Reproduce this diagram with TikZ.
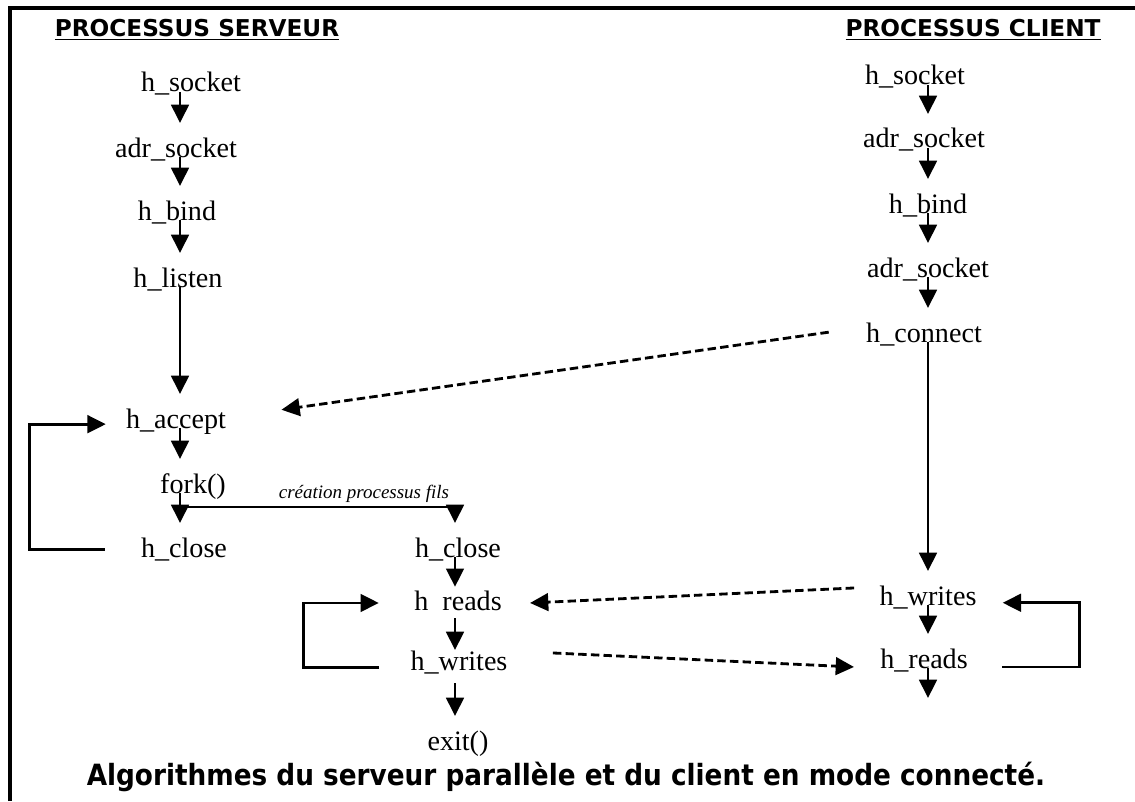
\documentclass[tikz,border=0pt]{standalone}
\usepackage{fontspec}
\setmainfont{Liberation Serif}
\newfontfamily\headfont{DejaVu Sans}
\newfontfamily\legfont{DejaVu Sans Condensed}
\usetikzlibrary{arrows.meta, calc, positioning}

\tikzset{
  flow/.style={anchor=base, inner xsep=0pt, inner ysep=10pt, text height=14pt, text depth=4pt, font=\fontsize{20}{24}\selectfont},
  arr/.style={line width=2.1pt, -{Triangle[width=12.5pt,length=13pt]}},
  darr/.style={arr, line width=2pt, dash pattern=on 6pt off 3pt},
  title/.style={anchor=base, inner sep=0pt, font=\headfont\bfseries\fontsize{16.5}{20}\selectfont},
}

\begin{document}
\begin{tikzpicture}[x={(0.025cm,0)}, y={(0,-0.025cm)}]
		\useasboundingbox (0,0) rectangle (1135,801);
		
		%//cadre
		\draw[line width=2.6pt] (10,801) -- (10,8) -- (1135,8);
		
		\node[title] (titreS) at (197,37) {\underline{PROCESSUS SERVEUR}};
		\node[title] (titreC) at (973,37) {\underline{PROCESSUS CLIENT}};
		
		\coordinate (sx) at (180,0);
		\coordinate (cx) at (455,0);
		\coordinate (kx) at (928,0);
		
		%//serveur
		\foreach \n/\x/\y/\t in {hsockS/191/92/h\_socket, adrS/176/157/adr\_socket, bindS/177/220/h\_bind, listenS/178/287/h\_listen, acceptS/176/428/h\_accept, forkS/193/493/fork(), closeS/184/557/h\_close}
		\node[flow] (\n) at (\x,\y) {\t};
		
		\foreach \a/\b in {hsockS/adrS, adrS/bindS, bindS/listenS, listenS/acceptS, acceptS/forkS, forkS/closeS}
		\draw[arr] (\a.base -| sx) -- (\b.north -| sx);
		
		\draw[arr] ([xshift=-0.9cm]closeS.west) -- ++(-75,0) |- ([xshift=-0.5cm,yshift=-0.08cm]acceptS.west);
		
		%//processus fils
		\foreach \n/\x/\y/\t in {closeC/458/557/h\_close, readsS/458/610/h\phantom{\_}reads, writesS/459/670/h\_writes, exitS/458/750/exit()}
		\node[flow] (\n) at (\x,\y) {\t};
		
		\coordinate (split) at (180,507);
		\draw[arr] (split) -| (closeC.north -| cx);
		\node[anchor=base, inner sep=0pt, font=\itshape\fontsize{13.5}{16}\selectfont] (fils) at (364,498) {création processus fils};
		
		\draw[arr] (closeC.base -| cx) -- ([yshift=0.58cm]readsS.base -| cx);
		\draw[arr] ([yshift=-0.2cm]readsS.base -| cx) -- ([yshift=0.5cm]writesS.base -| cx);
		\draw[arr] ([yshift=-0.33cm]writesS.base -| cx) -- (exitS.north -| cx);
		
		\draw[arr] ([xshift=-0.78cm,yshift=-0.12cm]writesS.west) -- ++(-76,0) |- ([xshift=-0.88cm]readsS.west);
		
		%//client
		\foreach \n/\x/\y/\t in {hsockC/915/85/h\_socket, adrC/924/148/adr\_socket, bindC/928/213/h\_bind, adrC2/928/277/adr\_socket, connC/924/342/h\_connect, writesC/928/605/h\_writes, readsC/924/668/h\_reads}
		\node[flow] (\n) at (\x,\y) {\t};
		
		\foreach \a/\b in {hsockC/adrC, adrC/bindC, bindC/adrC2, adrC2/connC, connC/writesC, writesC/readsC}
		\draw[arr] (\a.base -| kx) -- (\b.north -| kx);
		
		\coordinate (finC) at (928,698);
		\draw[arr] (readsC.base -| kx) -- (finC);
		
		\draw[arr] ([xshift=0.85cm,yshift=-0.15cm]readsC.east) -- ++(77,0) |- ([xshift=0.65cm,yshift=-0.12cm]writesC.east);
		
		%//echanges
		\draw[darr] ([xshift=-0.93cm,yshift=0.07cm]connC.west) -- ([xshift=1.38cm,yshift=0.28cm]acceptS.east);
		\draw[darr] ([xshift=-0.63cm,yshift=0.25cm]writesC.west) -- ([xshift=0.7cm]readsS.east);
		\draw[darr] ([xshift=1.13cm,yshift=0.25cm]writesS.east) -- ([xshift=-0.65cm,yshift=-0.15cm]readsC.west);
		
		\node[anchor=base, inner sep=0pt, font=\legfont\bfseries\fontsize{20.8}{25}\selectfont] (legende) at (566,785) {Algorithmes du serveur parallèle et du client en mode connecté.};
\end{tikzpicture}
\end{document}
